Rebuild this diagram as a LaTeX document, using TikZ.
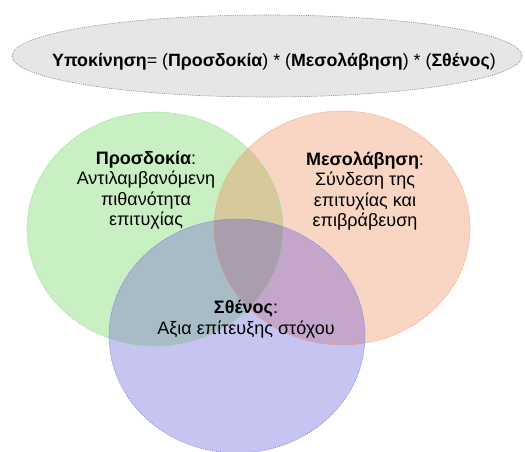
\documentclass[tikz,border=0pt]{standalone}
\usepackage{fontspec}
\setmainfont{Liberation Sans}
\begin{document}
\begin{tikzpicture}[x=1pt,y=-1pt,
  outl/.style={line width=0.6pt,dash pattern=on 1pt off 1.2pt},
  lbl/.style={align=center,inner sep=0pt,font=\fontsize{18}{20.5}\selectfont},
  title/.style={inner sep=0pt,font=\fontsize{17.8}{22}\selectfont}]
\definecolor{cGreen}{HTML}{C9F0C3}
\definecolor{cOrange}{HTML}{F9D5C3}
\definecolor{cPurple}{HTML}{C6C4F1}
\definecolor{cGO}{HTML}{D6CA9C}
\definecolor{cGP}{HTML}{A8BCC8}
\definecolor{cOP}{HTML}{C4A6CA}
\definecolor{cGOP}{HTML}{AA9EAE}
\definecolor{lGreen}{HTML}{8ED88A}
\definecolor{lOrange}{HTML}{EE9C7E}
\definecolor{lPurple}{HTML}{7E7EE0}
\definecolor{cTop}{HTML}{E6E6E6}
\definecolor{lTop}{HTML}{808080}
\def\rx{128pt}\def\ry{117pt}
\useasboundingbox (0,0) rectangle (525,452);
% centres of the ellipses
\coordinate (top) at (267,56);
\coordinate (cg) at (155,229);
\coordinate (co) at (342,228);
\coordinate (cp) at (237,336);
% formula banner
\path[fill=cTop,draw=lTop,outl] (top) ellipse [x radius=255pt,y radius=41pt];
% plain fills
\fill[cGreen] (cg) ellipse [x radius=\rx,y radius=\ry];
\fill[cOrange] (co) ellipse [x radius=\rx,y radius=\ry];
\fill[cPurple] (cp) ellipse [x radius=\rx,y radius=\ry];
% pairwise overlaps
\begin{scope}
  \clip (cg) ellipse [x radius=\rx,y radius=\ry];
  \fill[cGO] (co) ellipse [x radius=\rx,y radius=\ry];
  \fill[cGP] (cp) ellipse [x radius=\rx,y radius=\ry];
\end{scope}
\begin{scope}
  \clip (co) ellipse [x radius=\rx,y radius=\ry];
  \fill[cOP] (cp) ellipse [x radius=\rx,y radius=\ry];
  % triple overlap
  \clip (cg) ellipse [x radius=\rx,y radius=\ry];
  \fill[cGOP] (cp) ellipse [x radius=\rx,y radius=\ry];
\end{scope}
% dotted outlines
\draw[lGreen,outl] (cg) ellipse [x radius=\rx,y radius=\ry];
\draw[lOrange,outl] (co) ellipse [x radius=\rx,y radius=\ry];
\draw[lPurple,outl] (cp) ellipse [x radius=\rx,y radius=\ry];
% texts
\node[title] (formula) at (274,62) {\textbf{Υποκίνηση}= (\textbf{Προσδοκία}) * (\textbf{Μεσολάβηση}) * (\textbf{Σθένος})};
\node[lbl] (expect) at (146,190) {\textbf{Προσδοκία}:\\Αντιλαμβανόμενη\\πιθανότητα\\επιτυχίας};
\node[lbl] (instr) at (365,191) {\textbf{Μεσολάβηση}:\\Σύνδεση της\\επιτυχίας και\\επιβράβευση};
\node[lbl] (valence) at (246,319) {\textbf{Σθένος}:\\Αξια επίτευξης στόχου};
\end{tikzpicture}
\end{document}
